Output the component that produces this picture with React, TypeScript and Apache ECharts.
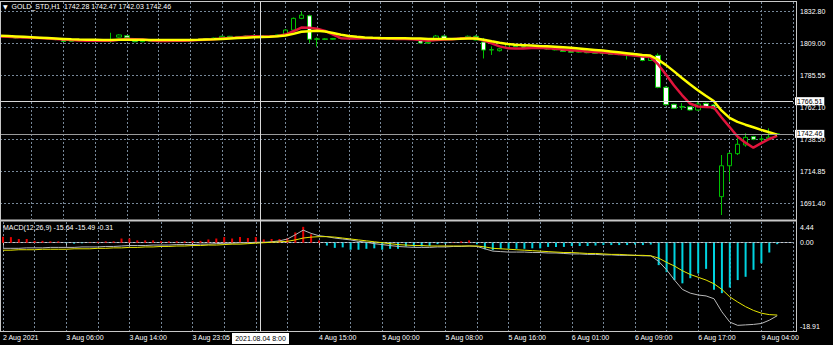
import React, { useEffect, useRef } from 'react';
import * as echarts from 'echarts';

// [open, close, low, high] per H1 bar
const candles: number[][] = [
  [1814.6, 1814.0, 1813.5, 1815.0], [1814.0, 1813.5, 1813.0, 1814.4], [1813.6, 1812.9, 1812.5, 1814.0], [1812.9, 1813.4, 1812.6, 1813.8],
  [1813.4, 1813.0, 1812.6, 1813.7], [1813.0, 1812.8, 1812.2, 1813.3], [1812.8, 1812.3, 1811.8, 1813.0], [1812.3, 1811.8, 1811.3, 1812.6],
  [1811.8, 1810.4, 1810.0, 1812.0], [1810.4, 1810.9, 1810.1, 1811.3], [1810.9, 1811.3, 1810.6, 1811.6], [1811.3, 1811.0, 1810.7, 1811.5],
  [1811.0, 1810.7, 1810.4, 1811.2], [1810.7, 1811.0, 1810.5, 1811.3], [1811.0, 1811.3, 1809.4, 1816.8], [1813.6, 1815.2, 1813.2, 1815.6],
  [1814.6, 1813.1, 1812.8, 1815.0], [1811.6, 1810.2, 1809.8, 1811.9], [1810.2, 1810.6, 1809.8, 1811.0], [1810.6, 1810.9, 1810.3, 1811.3],
  [1810.9, 1810.6, 1810.2, 1811.2], [1810.6, 1811.0, 1810.3, 1811.3], [1811.0, 1811.3, 1810.8, 1811.6], [1811.3, 1811.0, 1810.7, 1811.5],
  [1811.0, 1811.5, 1810.8, 1811.8], [1811.5, 1811.9, 1811.2, 1812.3], [1811.9, 1812.5, 1811.6, 1812.8], [1812.5, 1812.9, 1812.2, 1813.3],
  [1812.9, 1814.2, 1812.7, 1814.6], [1814.2, 1813.8, 1813.4, 1814.5], [1813.8, 1814.1, 1813.5, 1814.4], [1814.1, 1814.4, 1813.8, 1814.8],
  [1814.4, 1814.6, 1813.6, 1815.6], [1814.6, 1813.5, 1813.2, 1814.8], [1813.5, 1814.0, 1813.1, 1814.3], [1814.0, 1815.3, 1813.8, 1815.8],
  [1815.6, 1818.8, 1815.2, 1819.4], [1818.8, 1827.4, 1818.4, 1828.0], [1827.4, 1829.8, 1826.8, 1832.3], [1829.3, 1812.0, 1809.3, 1830.0],
  [1812.0, 1812.3, 1806.6, 1813.4], [1812.3, 1812.0, 1811.4, 1812.9], [1812.0, 1812.6, 1811.6, 1813.0], [1812.6, 1812.9, 1812.2, 1813.3],
  [1812.9, 1812.5, 1812.1, 1813.2], [1812.5, 1812.8, 1812.2, 1813.1], [1812.8, 1813.2, 1812.5, 1813.5], [1813.2, 1812.9, 1812.6, 1813.5],
  [1812.9, 1811.9, 1811.6, 1813.2], [1811.9, 1812.3, 1811.5, 1812.6], [1812.3, 1812.1, 1811.8, 1812.5], [1812.1, 1812.4, 1811.8, 1812.7],
  [1812.4, 1812.2, 1811.9, 1812.6], [1811.0, 1809.2, 1808.9, 1811.2], [1809.2, 1809.8, 1808.9, 1810.2], [1812.2, 1814.4, 1811.8, 1815.2],
  [1814.4, 1812.2, 1811.9, 1814.8], [1812.2, 1812.5, 1811.9, 1812.9], [1812.5, 1813.0, 1812.1, 1813.6], [1813.0, 1814.2, 1812.8, 1814.8],
  [1814.2, 1811.5, 1811.2, 1815.0], [1810.0, 1804.1, 1797.9, 1813.0], [1804.1, 1804.4, 1800.5, 1806.8], [1803.6, 1805.0, 1803.0, 1805.6],
  [1806.1, 1808.3, 1805.6, 1808.8], [1808.0, 1806.6, 1806.2, 1808.4], [1806.6, 1805.6, 1805.2, 1807.0], [1805.6, 1806.0, 1805.2, 1806.4],
  [1806.0, 1805.2, 1804.8, 1806.3], [1805.2, 1804.8, 1804.3, 1805.6], [1804.8, 1804.2, 1803.8, 1805.0], [1804.2, 1803.0, 1802.7, 1804.4],
  [1803.3, 1802.5, 1802.1, 1803.6], [1802.5, 1803.0, 1802.0, 1803.4], [1803.0, 1802.1, 1801.7, 1803.3], [1802.3, 1801.7, 1801.3, 1802.8],
  [1801.7, 1801.5, 1800.8, 1802.1], [1801.5, 1800.9, 1800.5, 1801.9], [1800.9, 1801.2, 1800.3, 1801.5], [1801.2, 1800.6, 1797.2, 1801.4],
  [1800.6, 1799.9, 1799.4, 1800.9], [1799.3, 1796.4, 1795.8, 1799.6], [1796.4, 1799.3, 1796.0, 1800.6], [1800.2, 1776.7, 1776.0, 1801.7],
  [1776.7, 1763.9, 1763.2, 1777.5], [1764.2, 1761.3, 1760.8, 1764.6], [1762.2, 1762.5, 1760.0, 1765.1], [1762.4, 1760.0, 1759.5, 1762.8],
  [1760.0, 1764.4, 1759.6, 1766.8], [1764.9, 1762.4, 1762.0, 1765.5], [1763.7, 1761.0, 1760.3, 1764.4], [1696.3, 1719.0, 1682.8, 1726.9],
  [1719.0, 1728.1, 1707.3, 1729.1], [1727.9, 1734.8, 1726.9, 1740.4], [1734.3, 1739.9, 1733.0, 1742.9], [1740.4, 1738.5, 1737.8, 1741.0],
  [1738.5, 1738.7, 1736.0, 1740.9], [1738.8, 1740.0, 1738.3, 1746.5], [1742.28, 1742.46, 1742.03, 1742.47],
];

const fastMA = [
  1814.0, 1813.8, 1813.5, 1813.3, 1813.1, 1812.9, 1812.6, 1812.3, 1811.8, 1811.4,
  1811.2, 1811.0, 1810.9, 1810.9, 1811.0, 1811.6, 1812.2, 1812.0, 1811.8, 1811.2,
  1810.8, 1810.8, 1810.9, 1811.0, 1811.2, 1811.4, 1811.7, 1812.0, 1812.6, 1813.0,
  1813.4, 1813.8, 1814.2, 1814.1, 1814.1, 1814.4, 1815.5, 1817.9, 1820.6, 1820.5,
  1819.8, 1818.2, 1815.4, 1812.8, 1812.6, 1812.6, 1812.7, 1812.8, 1812.6, 1812.5,
  1812.3, 1812.2, 1812.1, 1811.5, 1811.0, 1811.5, 1811.8, 1812.0, 1812.6, 1813.0,
  1812.8, 1811.0, 1809.0, 1806.8, 1805.5, 1805.2, 1805.2, 1805.6, 1805.7, 1805.4,
  1805.0, 1804.5, 1804.0, 1803.5, 1803.0, 1802.6, 1802.2, 1801.7, 1801.2, 1800.6,
  1800.0, 1799.3, 1799.0, 1793.5, 1786.0, 1778.0, 1771.0, 1764.8, 1762.6, 1762.2,
  1762.0, 1754.5, 1747.5, 1740.5, 1736.0, 1732.3, 1735.6, 1738.7, 1741.0,
];

const slowMA = [
  1814.6, 1814.4, 1814.1, 1813.8, 1813.5, 1813.2, 1812.9, 1812.6, 1812.3, 1812.0,
  1811.8, 1811.7, 1811.6, 1811.5, 1811.5, 1811.6, 1811.7, 1811.7, 1811.6, 1811.5,
  1811.4, 1811.4, 1811.4, 1811.4, 1811.5, 1811.6, 1811.8, 1812.0, 1812.3, 1812.6,
  1812.9, 1813.2, 1813.5, 1813.7, 1813.9, 1814.2, 1814.8, 1816.0, 1817.6, 1818.0,
  1818.2, 1817.8, 1816.6, 1815.4, 1814.4, 1813.8, 1813.4, 1813.1, 1812.9, 1812.8,
  1812.7, 1812.7, 1812.6, 1812.5, 1812.3, 1812.3, 1812.3, 1812.3, 1812.4, 1812.6,
  1812.6, 1811.6, 1810.5, 1809.5, 1808.6, 1808.0, 1807.7, 1807.4, 1807.0, 1806.8,
  1806.5, 1806.1, 1805.7, 1805.2, 1804.7, 1804.2, 1803.7, 1803.1, 1802.5, 1801.8,
  1801.1, 1800.5, 1800.0, 1797.0, 1793.0, 1788.4, 1783.6, 1779.0, 1774.6, 1770.5,
  1766.6, 1759.5, 1754.2, 1751.3, 1749.2, 1747.3, 1745.4, 1743.6, 1741.9,
];

const macdHist = [
  1.3, 1.2, 0.8, 0.8, 0.4, 0.4, 0.3, 0.3, -0.1, -0.2,
  -0.1, 0.1, 0.2, 0.3, 0.3, 0.9, 0.9, 0.5, 0.5, 0.5,
  0.3, 0.3, 0.3, 0.3, 0.4, 0.4, 0.7, 0.9, 1.2, 0.9,
  1.2, 1.0, 1.2, 0.7, 0.8, 0.8, 1.0, 2.2, 3.4, 1.8,
  0.5, -0.6, -1.1, -1.0, -1.5, -1.5, -1.3, -1.2, -1.5, -1.3,
  -1.3, -0.8, -0.8, -0.8, -0.7, -0.3, -0.2, 0.1, 0.3, 0.5,
  -0.3, -1.4, -1.6, -1.3, -1.3, -1.3, -1.3, -1.2, -1.2, -0.9,
  -0.9, -0.9, -0.7, -0.7, -0.7, -0.6, -0.5, -0.5, -0.5, -0.5,
  -0.4, -0.5, -0.4, -4.8, -6.3, -8.0, -8.7, -7.6, -6.6, -5.6,
  -10.1, -10.8, -9.6, -8.0, -7.3, -5.8, -4.4, -2.1, -0.31,
];

const macdLine = [
  -1.2, -1.2, -1.2, -1.1, -1.1, -1.1, -1.0, -1.0, -1.0, -1.0,
  -0.9, -0.9, -0.9, -0.8, -0.8, -0.7, -0.6, -0.6, -0.6, -0.5,
  -0.5, -0.5, -0.4, -0.4, -0.4, -0.3, -0.3, -0.2, -0.1, -0.1,
  0.0, 0.0, 0.1, 0.1, 0.2, 0.4, 0.8, 1.7, 2.7, 2.0,
  1.5, 1.3, 1.0, 0.8, 0.6, 0.3, 0.1, -0.2, -0.4, -0.6,
  -0.8, -0.9, -1.0, -1.0, -1.0, -0.9, -0.9, -0.8, -0.8, -0.7,
  -0.8, -1.3, -1.8, -1.9, -2.0, -2.0, -2.0, -2.1, -2.1, -2.2,
  -2.2, -2.3, -2.4, -2.4, -2.5, -2.5, -2.6, -2.6, -2.7, -2.7,
  -2.7, -2.8, -2.8, -4.0, -5.8, -8.0, -10.0, -10.8, -11.2, -11.4,
  -12.0, -14.8, -17.0, -17.7, -17.6, -17.5, -17.3, -16.6, -15.64,
];

const signalLine = [
  -1.6, -1.6, -1.5, -1.5, -1.5, -1.4, -1.4, -1.4, -1.4, -1.3,
  -1.3, -1.3, -1.2, -1.2, -1.1, -1.1, -1.0, -1.0, -0.9, -0.9,
  -0.8, -0.8, -0.7, -0.7, -0.6, -0.6, -0.5, -0.5, -0.4, -0.3,
  -0.3, -0.2, -0.1, 0.0, 0.1, 0.2, 0.3, 0.6, 1.0, 1.2,
  1.3, 1.3, 1.2, 1.0, 0.8, 0.6, 0.4, 0.2, 0.0, -0.2,
  -0.4, -0.5, -0.6, -0.6, -0.7, -0.7, -0.7, -0.7, -0.7, -0.7,
  -0.7, -0.9, -1.2, -1.3, -1.4, -1.5, -1.6, -1.7, -1.8, -1.9,
  -2.0, -2.1, -2.1, -2.2, -2.3, -2.3, -2.4, -2.5, -2.5, -2.6,
  -2.7, -2.7, -2.8, -3.3, -4.2, -5.0, -6.0, -6.8, -7.4, -8.0,
  -8.8, -10.0, -11.6, -12.7, -13.7, -14.5, -15.1, -15.4, -15.49,
];

const priceLevels = [1832.8, 1809.0, 1785.55, 1762.1, 1738.5, 1714.85, 1691.4];
const priceRange = [1679.86, 1839.42];
const macdRange = [-18.91, 4.44];
const tickLabels: [number, string][] = [
  [0, '2 Aug 2021'], [8, '3 Aug 06:00'], [16, '3 Aug 14:00'], [24, '3 Aug 23:05'],
  [40, '4 Aug 15:00'], [48, '5 Aug 00:00'], [56, '5 Aug 08:00'], [64, '5 Aug 16:00'],
  [72, '6 Aug 01:00'], [80, '6 Aug 09:00'], [88, '6 Aug 17:00'], [96, '9 Aug 04:00'],
];
const symbolName = 'GOLD_STD,H1';
const crossPrice = 1766.51;
const crossTime = '2021.08.04 8:00';
const SLOTS = 101;

const FONT = "'Liberation Sans', Arial, sans-serif";
const FG = '#ffffff';
const GRIDC = '#778899';
const FRAME = '#c8c8c8';
const GREEN = '#00c000';
const NB = '\u00a0';

export default function App() {
  const ref = useRef<HTMLDivElement>(null);
  useEffect(() => {
    const chart = echarts.init(ref.current as HTMLDivElement, null, { renderer: 'svg' });
    const n = candles.length;
    const last = candles[n - 1];
    const fmt = (v: number) => v.toFixed(2);
    const cats = Array.from({ length: SLOTS }, (_, i) => String(i));
    const labelMap = new Map<number, string>(tickLabels);
    const splitLine = { show: true, interval: (i: number) => i % 4 === 0, lineStyle: { color: GRIDC, type: [2, 2], width: 1 } };
    const boxLabel = {
      show: true, position: 'end', distance: 2, formatter: (p: any) => fmt(p.value),
      color: '#000', backgroundColor: '#fff', fontSize: 7, fontFamily: FONT, padding: [1, 2, 0, 2],
    };
    const header = [symbolName, fmt(last[0]), fmt(last[3]), fmt(last[2]), fmt(last[1])];
    const option: any = {
      backgroundColor: '#000',
      animation: false,
      textStyle: { fontFamily: FONT },
      title: [
        {
          text: `{tri|▼}${NB}${NB}${header[0]}${NB}${NB}${header.slice(1).join(NB)}`,
          left: 3, top: 3, padding: 0,
          textStyle: { color: FG, fontSize: 7, fontWeight: 'normal', fontFamily: FONT, rich: { tri: { fontSize: 6, color: FG, fontFamily: 'DejaVu Sans' } } },
        },
        {
          text: `MACD(12,26,9)${NB}${fmt(macdLine[n - 1])}${NB}${fmt(signalLine[n - 1])}${NB}${fmt(macdHist[n - 1])}`,
          left: 3, top: 224, padding: 0,
          textStyle: { color: FG, fontSize: 7, fontWeight: 'normal', fontFamily: FONT },
        },
      ],
      grid: [
        { left: 0, top: 2, width: 793, height: 217 },
        { left: 0, top: 222, width: 793, height: 109 },
      ],
      xAxis: [
        {
          type: 'category', gridIndex: 0, data: cats, boundaryGap: false,
          axisLine: { show: false }, axisTick: { show: false }, axisLabel: { show: false }, splitLine,
        },
        {
          type: 'category', gridIndex: 1, data: cats, boundaryGap: false,
          axisLine: { show: true, lineStyle: { color: FRAME } },
          axisTick: { show: true, interval: (i: number) => labelMap.has(i), length: 3, lineStyle: { color: FRAME } },
          axisLabel: {
            interval: (i: number) => labelMap.has(i),
            formatter: (v: string) => labelMap.get(Number(v)) ?? '',
            align: 'left', color: FG, fontSize: 7, margin: 3, fontFamily: FONT,
          },
          splitLine,
        },
      ],
      yAxis: [
        { type: 'value', gridIndex: 0, position: 'right', min: priceRange[0], max: priceRange[1], show: false },
        {
          type: 'value', gridIndex: 1, position: 'right', min: macdRange[0], max: macdRange[1],
          interval: macdRange[1] - macdRange[0],
          axisLine: { show: false }, axisTick: { show: false }, splitLine: { show: false },
          axisLabel: {
            showMinLabel: true, showMaxLabel: true, margin: 7, color: FG, fontSize: 7, fontFamily: FONT,
            formatter: (v: number) => {
              if (Math.abs(v - macdRange[1]) < 0.01) return `{top|${fmt(macdRange[1])}}`;
              if (Math.abs(v - macdRange[0]) < 0.01) return `{bot|${fmt(macdRange[0])}}`;
              return '';
            },
            rich: {
              top: { padding: [11, 0, 0, 0], color: FG, fontSize: 7, fontFamily: FONT },
              bot: { padding: [0, 0, 9, 0], color: FG, fontSize: 7, fontFamily: FONT },
            },
          },
        },
      ],
      series: [
        {
          type: 'candlestick', name: 'price', xAxisIndex: 0, yAxisIndex: 0, data: candles, barWidth: 5, z: 2,
          itemStyle: { color: '#000', color0: '#fff', borderColor: GREEN, borderColor0: GREEN, borderColorDoji: GREEN, borderWidth: 1 },
          markLine: {
            silent: true, symbol: ['none', 'none'], z: 1, animation: false,
            lineStyle: { color: GRIDC, type: [2, 2], width: 1 },
            label: { show: true, position: 'end', distance: 7, formatter: (p: any) => fmt(p.value), color: FG, fontSize: 7, fontFamily: FONT },
            emphasis: { disabled: true },
            data: priceLevels.map((v) => ({ yAxis: v })),
          },
        },
        {
          type: 'line', name: 'fast', xAxisIndex: 0, yAxisIndex: 0, data: fastMA, showSymbol: false, z: 3,
          lineStyle: { color: '#e0143c', width: 2.5 },
        },
        {
          type: 'line', name: 'slow', xAxisIndex: 0, yAxisIndex: 0, data: slowMA, showSymbol: false, z: 4,
          lineStyle: { color: '#ffff00', width: 2.5 },
          markLine: {
            silent: true, symbol: ['none', 'none'], z: 6, animation: false,
            emphasis: { disabled: true },
            data: [
              { yAxis: crossPrice, lineStyle: { color: '#d8d8d8', type: 'solid', width: 1 }, label: boxLabel },
              { yAxis: last[1], lineStyle: { color: '#9a9a9a', type: 'solid', width: 1 }, label: boxLabel },
            ],
          },
        },
        {
          type: 'bar', name: 'hist', xAxisIndex: 1, yAxisIndex: 1, data: macdHist, barWidth: 2, z: 2,
          itemStyle: { color: (p: any) => (p.value >= 0 ? '#e80000' : '#00d4e0') },
          markLine: {
            silent: true, symbol: ['none', 'none'], z: 1, animation: false,
            emphasis: { disabled: true },
            lineStyle: { color: GRIDC, type: [2, 2], width: 1 },
            label: { show: true, position: 'end', distance: 7, formatter: (p: any) => fmt(p.value), color: FG, fontSize: 7, fontFamily: FONT },
            data: [{ yAxis: 0 }],
          },
        },
        {
          type: 'line', name: 'macd', xAxisIndex: 1, yAxisIndex: 1, data: macdLine, showSymbol: false, z: 3,
          lineStyle: { color: '#b8b8b8', width: 1 },
        },
        {
          type: 'line', name: 'signal', xAxisIndex: 1, yAxisIndex: 1, data: signalLine, showSymbol: false, z: 4,
          lineStyle: { color: '#e6e600', width: 1 },
        },
      ],
      graphic: [
        { type: 'line', silent: true, z: 10, shape: { x1: 0, y1: 1.5, x2: 797, y2: 1.5 }, style: { stroke: FRAME, lineWidth: 1 } },
        { type: 'line', silent: true, z: 10, shape: { x1: 0.5, y1: 1, x2: 0.5, y2: 332 }, style: { stroke: FRAME, lineWidth: 1 } },
        { type: 'line', silent: true, z: 10, shape: { x1: 796.5, y1: 1, x2: 796.5, y2: 332 }, style: { stroke: FRAME, lineWidth: 1 } },
        { type: 'line', silent: true, z: 10, shape: { x1: 0, y1: 220.5, x2: 797, y2: 220.5 }, style: { stroke: FRAME, lineWidth: 2 } },
        { type: 'line', silent: true, z: 10, shape: { x1: 0, y1: 331.5, x2: 797, y2: 331.5 }, style: { stroke: FRAME, lineWidth: 1 } },
        { type: 'line', silent: true, z: 10, shape: { x1: 260.5, y1: 2, x2: 260.5, y2: 332 }, style: { stroke: '#d8d8d8', lineWidth: 1 } },
        { type: 'rect', silent: true, z: 11, shape: { x: 232, y: 333, width: 57, height: 11 }, style: { fill: '#fff' } },
        {
          type: 'text', silent: true, z: 12, x: 260.5, y: 338.8,
          style: { text: crossTime, fill: '#000', fontSize: 7, fontFamily: FONT, align: 'center', verticalAlign: 'middle' },
        },
      ],
    };
    chart.setOption(option);
    return () => chart.dispose();
  }, []);
  return <div ref={ref} style={{ position: 'fixed', left: 0, top: 0, width: 833, height: 345, background: '#000' }} />;
}
